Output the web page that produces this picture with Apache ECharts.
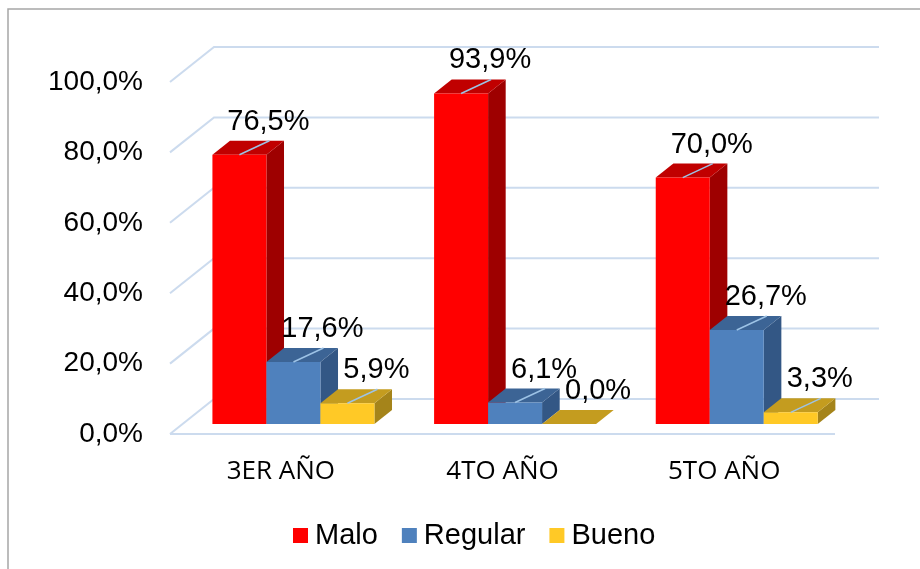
<!DOCTYPE html>
<html>
<head>
<meta charset="utf-8">
<script src="https://cdn.jsdelivr.net/npm/echarts@6/dist/echarts.min.js"></script>
<style>html,body{margin:0;padding:0;background:#fff;}#c{width:920px;height:569px;}</style>
</head>
<body>
<div id="c"></div>
<script>
const categories = ['3ER AÑO', '4TO AÑO', '5TO AÑO'];
const seriesNames = ['Malo', 'Regular', 'Bueno'];
const malo = [76.5, 93.9, 70.0];
const regular = [17.6, 6.1, 26.7];
const bueno = [5.9, 0.0, 3.3];
const yTicks = [0, 20, 40, 60, 80, 100];

const DX = 44, DY = -35;         // full depth offset of the 3D floor
const ZF = 0.286, ZB = 0.686;    // bar depth (front/back) fraction
const BAR_FRAC = 0.2436;         // bar width as fraction of category band
const FONT = '"Liberation Sans", Arial, sans-serif';

const palettes = [
  { front: '#FF0000', top: '#C00000', side: '#9E0000' },
  { front: '#4F81BD', top: '#3C6495', side: '#335785' },
  { front: '#FFC926', top: '#C49C1F', side: '#A5841A' }
];

function fmt(v) { return v.toFixed(1).replace('.', ',') + '%'; }

function makeBarSeries(k, values) {
  const pal = palettes[k];
  return {
    name: seriesNames[k],
    type: 'custom',
    coordinateSystem: 'cartesian2d',
    z: 3 + k,
    clip: false,
    itemStyle: { color: pal.front },
    encode: { x: 0, y: 1 },
    data: values.map((v, i) => [i, v]),
    renderItem: function (params, api) {
      const ci = api.value(0), v = api.value(1);
      const base = api.coord([ci, 0]);
      const top = api.coord([ci, v]);
      const band = api.size([1, 0])[0];
      const bw = band * BAR_FRAC;
      const xl = base[0] - 1.5 * bw + k * bw + DX * ZF;
      const xr = xl + bw;
      const yb = base[1] + DY * ZF;
      const yt = top[1] + DY * ZF;
      const ddx = DX * (ZB - ZF), ddy = DY * (ZB - ZF);
      const xc = xl + bw / 2;
      const children = [
        { type: 'polygon', shape: { points: [[xr, yt], [xr + ddx, yt + ddy], [xr + ddx, yb + ddy], [xr, yb]] }, style: { fill: pal.side } },
        { type: 'polygon', shape: { points: [[xl, yt], [xr, yt], [xr + ddx, yt + ddy], [xl + ddx, yt + ddy]] }, style: { fill: pal.top } },
        { type: 'rect', shape: { x: xl, y: yt, width: bw, height: yb - yt }, style: { fill: pal.front } }
      ];
      if (v > 0) {
        children.push({ type: 'line', shape: { x1: xc, y1: yt, x2: xc + 30, y2: yt - 14 }, style: { stroke: '#9DC3E6', lineWidth: 1.5 } });
      }
      children.push({
        type: 'text',
        style: { text: fmt(v), x: xc + 29, y: yt - 33, align: 'center', verticalAlign: 'middle', fontSize: 29, fontFamily: FONT, fill: '#000' }
      });
      return { type: 'group', children: children };
    }
  };
}

const gridSeries = {
  name: '_grid',
  type: 'custom',
  coordinateSystem: 'cartesian2d',
  z: 1,
  clip: false,
  silent: true,
  encode: { x: 0, y: 1 },
  data: yTicks.map(v => [0, v]),
  renderItem: function (params, api) {
    const v = api.value(1);
    const p = api.coord([0, v]);
    const band = api.size([1, 0])[0];
    const left = p[0] - band / 2;
    const right = left + band * categories.length;
    const y = p[1];
    const style = { stroke: '#CCDBEE', lineWidth: 2, fill: null };
    const children = [
      { type: 'polyline', shape: { points: [[left, y], [left + DX, y + DY], [right + DX, y + DY]] }, style: style }
    ];
    if (v === 0) {
      children.push({ type: 'line', shape: { x1: left, y1: y, x2: right, y2: y }, style: style });
    }
    return { type: 'group', children: children };
  }
};

const chart = echarts.init(document.getElementById('c'), null, { renderer: 'canvas' });
chart.setOption({
  backgroundColor: '#fff',
  animation: false,
  graphic: [{
    type: 'rect', shape: { x: 8, y: 9, width: 1000, height: 1000 },
    style: { fill: null, stroke: '#A6A6A6', lineWidth: 1.5 }, z: 0, silent: true
  }],
  grid: { left: 170, right: 85, top: 82, bottom: 135 },
  xAxis: {
    type: 'category',
    data: categories,
    axisLine: { show: false },
    axisTick: { show: false },
    splitLine: { show: false },
    axisLabel: { fontSize: 26, fontFamily: '"Open Sans", sans-serif', color: '#000', margin: 25 }
  },
  yAxis: {
    type: 'value',
    min: 0, max: 100, interval: 20,
    axisLine: { show: false },
    axisTick: { show: false },
    splitLine: { show: false },
    axisLabel: { fontSize: 28, fontFamily: FONT, color: '#000', margin: 27, formatter: v => fmt(v) }
  },
  legend: {
    data: seriesNames,
    left: 288,
    top: 516,
    icon: 'rect',
    itemWidth: 15,
    itemHeight: 15,
    itemGap: 24,
    textStyle: { fontSize: 29, fontFamily: FONT, color: '#000', padding: [0, 0, 0, 2] }
  },
  series: [gridSeries, makeBarSeries(0, malo), makeBarSeries(1, regular), makeBarSeries(2, bueno)]
});
</script>
</body>
</html>
